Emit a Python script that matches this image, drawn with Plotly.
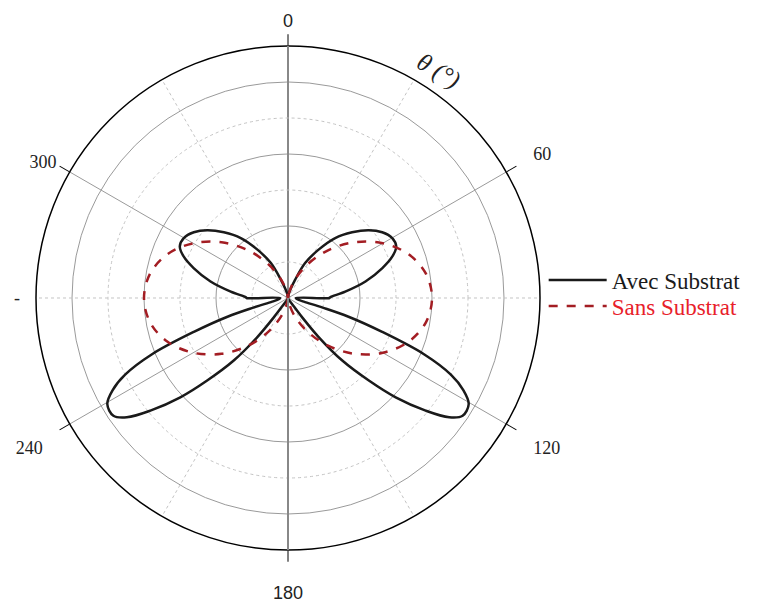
import plotly.graph_objects as go

# Avec Substrat (black)
theta_avec = [0, 10, 16, 21.3, 26.1, 32.3, 38.2, 44.3, 50, 55.1, 60.1, 64.5, 68.3, 72.4, 78, 83.7, 89, 90,
              90, 98, 103, 105.5, 107.2, 109.8, 112.5, 115.2, 117.7, 120.4, 124, 126.5, 129.3, 132.7, 135.6,
              139.1, 141.9, 143.8, 146, 155, 170, 180,
              190, 205, 214, 216.2, 218.1, 220.9, 224.4, 227.3, 230.7, 233.5, 236, 239.6, 242.3, 244.8,
              247.5, 250.2, 252.8, 254.5, 257, 262, 270,
              270, 271, 276.3, 282, 287.6, 291.7, 295.5, 299.9, 304.9, 310, 315.7, 321.8, 327.7, 333.9,
              338.7, 344, 350, 360]
r_avec = [0, 0.1, 0.25, 0.54, 1.08, 1.59, 2.12, 2.55, 2.93, 3.19, 3.34, 3.33, 3.12, 2.75, 2.2, 1.6, 1.17, 1.15,
          0.22, 0.26, 0.45, 1.0, 1.76, 2.78, 4.1, 5.0, 5.5, 5.82, 5.85, 5.57, 4.94, 4.07, 3.21,
          2.29, 1.37, 0.65, 0.2, 0.05, 0.02, 0,
          0.02, 0.05, 0.2, 0.65, 1.37, 2.29, 3.21, 4.07, 4.94, 5.57, 5.85, 5.82, 5.5, 5.0,
          4.1, 2.78, 1.76, 1.0, 0.45, 0.26, 0.22,
          1.15, 1.17, 1.6, 2.2, 2.75, 3.12, 3.33, 3.34, 3.19, 2.93, 2.55, 2.12, 1.59, 1.08,
          0.54, 0.25, 0.1, 0]

# Sans Substrat (red dashed)
theta_sans = [0, 10, 20, 30, 40, 50, 60, 70, 80, 90, 100, 110, 120, 130, 140, 150, 160, 170, 180,
              190, 200, 210, 220, 230, 240, 250, 260, 270, 280, 290, 300, 310, 320, 330, 340, 350, 360]
r_sans = [0, 0.14, 0.52, 1.07, 1.73, 2.41, 3.04, 3.56, 3.89, 4.0, 3.89, 3.56, 3.04, 2.41, 1.73, 1.07, 0.52, 0.14, 0,
          0.14, 0.52, 1.07, 1.73, 2.41, 3.04, 3.56, 3.89, 4.0, 3.89, 3.56, 3.04, 2.41, 1.73, 1.07, 0.52, 0.14, 0]

sans = "Liberation Sans"
serif = "Liberation Serif"

# angular grid / ticks
major_angles = [0, 60, 120, 180, 240, 300]
major_labels = ["<span style='font-family:Liberation Sans'>0</span>", "", "", "", "", "300"]
minor_angles = [30, 90, 150, 210, 270, 330]
minor_labels = ["", "", "", "", "-", ""]
far_angles = [60, 120, 180, 240]
far_labels = ["60", "120", "<span style='font-family:Liberation Sans'>180</span>", "240"]
major_r = [2, 4, 6]
minor_r = [1, 3, 5]
r_max = 7

fig = go.Figure()
# empty traces so that the grid / label polar subplots are rendered
fig.add_trace(go.Scatterpolar(theta=[], r=[], mode="lines", subplot="polar", showlegend=False,
                              hoverinfo="skip"))
fig.add_trace(go.Scatterpolar(theta=[], r=[], mode="lines", subplot="polar3", showlegend=False,
                              hoverinfo="skip"))
fig.add_trace(go.Scatterpolar(
    theta=theta_avec, r=r_avec, mode="lines", name="Avec Substrat", subplot="polar2",
    legend="legend", showlegend=True,
    line=dict(color="#1a1a1a", width=2.5, shape="spline", smoothing=1.0)))
fig.add_trace(go.Scatterpolar(
    theta=theta_sans, r=r_sans, mode="lines",
    name="<span style='color:#e8202a'>Sans Substrat</span>", subplot="polar2",
    legend="legend2", showlegend=True,
    line=dict(color="#a31d23", width=2.5, dash="dash", shape="spline")))

dom = dict(x=[0.03694, 0.70185], y=[0.11438, 0.93791])

leg_common = dict(xanchor="left", yanchor="middle", bgcolor="rgba(0,0,0,0)",
                  font=dict(family=serif, size=23, color="#1a1a1a"), itemwidth=58, visible=True)

fig.update_layout(
    width=758, height=612,
    margin=dict(l=0, r=0, t=0, b=0),
    paper_bgcolor="white",
    showlegend=True,
    font=dict(family=serif, size=18, color="black"),
    polar=dict(
        domain=dom, bgcolor="white",
        radialaxis=dict(range=[0, r_max], tickvals=major_r, showticklabels=False, ticks="",
                        gridcolor="#9a9a9a", gridwidth=1, showline=True, linecolor="#888888",
                        linewidth=2, angle=90),
        angularaxis=dict(rotation=90, direction="clockwise", tickmode="array",
                         tickvals=major_angles, ticktext=major_labels,
                         gridcolor="#9a9a9a", gridwidth=1, showline=True, linecolor="black",
                         linewidth=1.5, ticks="outside", ticklen=11, tickcolor="black",
                         tickfont=dict(family=serif, size=18, color="#222"))),
    polar2=dict(
        domain=dom, bgcolor="rgba(0,0,0,0)",
        radialaxis=dict(range=[0, r_max], tickvals=minor_r, showticklabels=False, ticks="",
                        gridcolor="#c4c4c4", gridwidth=1, griddash="3px,3px", showline=True,
                        linecolor="#888888", linewidth=2, angle=270),
        angularaxis=dict(rotation=90, direction="clockwise", tickmode="array",
                         tickvals=minor_angles, ticktext=minor_labels,
                         gridcolor="#c4c4c4", gridwidth=1, griddash="3px,3px", showline=False,
                         ticks="outside", ticklen=12, tickcolor="rgba(0,0,0,0)",
                         tickfont=dict(family=serif, size=18, color="#222"))),
    polar3=dict(
        domain=dom, bgcolor="rgba(0,0,0,0)",
        radialaxis=dict(visible=False, range=[0, r_max]),
        angularaxis=dict(rotation=90, direction="clockwise", tickmode="array",
                         tickvals=far_angles, ticktext=far_labels, showgrid=False, showline=False,
                         ticks="outside", ticklen=27, tickcolor="rgba(0,0,0,0)",
                         tickfont=dict(family=serif, size=18, color="#222"))),
    legend=dict(x=0.7067, y=1 - 272 / 612, **leg_common),
    legend2=dict(x=0.7067, y=1 - 298 / 612, **leg_common),
    annotations=[dict(text="<i>θ (°)</i>", x=0.568, y=0.94, xref="paper", yref="paper",
                      showarrow=False, textangle=30, font=dict(family=serif, size=25, color="#222"))],
)

fig.write_html("out.html")
